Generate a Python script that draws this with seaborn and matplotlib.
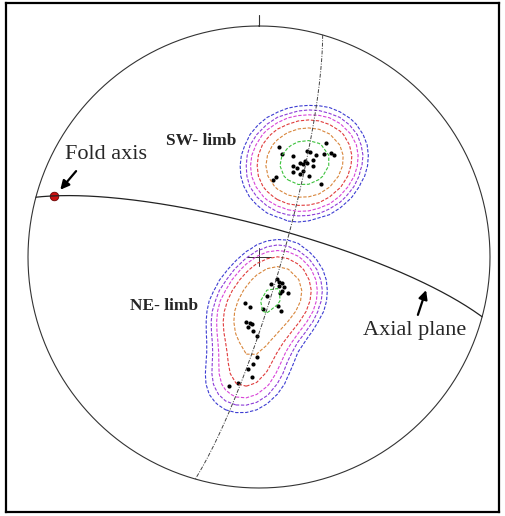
import matplotlib
matplotlib.use("Agg")
import matplotlib.pyplot as plt
import numpy as np
import pandas as pd
import seaborn as sns

sns.set_theme(style="white")
plt.rcParams["font.family"] = ["Liberation Serif", "DejaVu Serif"]

# %%
# poles to bedding, read off the net (equal-area, primitive radius = 1, x = east, y = north)
sw_x = [0.087, 0.100, 0.147, 0.208, 0.221, 0.247, 0.281, 0.312, 0.325, 0.290, 0.199, 0.234, 0.177,
        0.147, 0.165, 0.190, 0.208, 0.234, 0.147, 0.177, 0.190, 0.216, 0.074, 0.061, 0.268]
sw_y = [0.476, 0.446, 0.437, 0.459, 0.455, 0.442, 0.446, 0.450, 0.442, 0.494, 0.416, 0.420, 0.407,
        0.394, 0.385, 0.403, 0.407, 0.394, 0.368, 0.359, 0.372, 0.351, 0.346, 0.333, 0.316]
ne_x = [0.078, 0.087, 0.052, 0.100, 0.087, 0.108, 0.100, 0.091, 0.126, 0.035, -0.061, -0.039, 0.017,
        0.082, 0.095, -0.056, -0.039, -0.030, -0.048, -0.026, -0.009, -0.009, -0.026, -0.048, -0.030,
        -0.091, -0.130]
ne_y = [-0.095, -0.108, -0.117, -0.113, -0.126, -0.130, -0.147, -0.156, -0.156, -0.169, -0.199, -0.216,
        -0.225, -0.212, -0.234, -0.281, -0.286, -0.290, -0.303, -0.320, -0.342, -0.433, -0.463, -0.485,
        -0.519, -0.545, -0.558]

fold_axis = (286.5, 8)  # trend, plunge
axial_plane = (285, 79)  # strike, dip (right hand rule)
girdle = (16, 82)  # pi-circle, pole = fold axis

# contour levels as fraction of the max pole density
contour_levels = [0.08, 0.12, 0.17, 0.25, 0.4, 0.69]
contour_colors = ["#3c3cd2", "#8c3cd8", "#d844d8", "#e03c3c", "#d8863c", "#3cc23c"]


# %%
def project(trend, plunge):
    """Lower hemisphere equal-area projection of a line."""
    t, p = np.radians(trend), np.radians(plunge)
    r = np.sqrt(1 - np.sin(p))
    return r * np.sin(t), r * np.cos(t)


def great_circle(strike, dip, n=181):
    s, d = np.radians(strike), np.radians(dip)
    a = np.linspace(0, np.pi, n)
    east = np.cos(a) * np.sin(s) + np.sin(a) * np.cos(d) * np.cos(s)
    north = np.cos(a) * np.cos(s) - np.sin(a) * np.cos(d) * np.sin(s)
    down = np.sin(a) * np.sin(d)
    return east / np.sqrt(1 + down), north / np.sqrt(1 + down)


def pole_density(xs, ys, sigma=0.1, step=0.045):
    """Counting-type density on a coarse net grid (isotropic gaussian counting)."""
    g = np.arange(-1, 1 + step / 2, step)
    gx, gy = np.meshgrid(g, g)
    dens = np.zeros_like(gx)
    for x, y in zip(xs, ys):
        dens += np.exp(-((gx - x) ** 2 + (gy - y) ** 2) / (2 * sigma**2))
    dens[gx**2 + gy**2 > 1] = 0
    return gx, gy, dens / dens.max()


poles = pd.DataFrame(
    {
        "x": sw_x + ne_x,
        "y": sw_y + ne_y,
        "limb": ["SW"] * len(sw_x) + ["NE"] * len(ne_x),
    }
)

# %%
fig = plt.figure(figsize=(5.05, 5.16), dpi=100)
ax = fig.add_axes([6 / 505, 1 - 512 / 516, 493 / 505, 509 / 516])

# primitive circle + north tick + centre cross
theta = np.linspace(0, 2 * np.pi, 721)
ax.plot(np.sin(theta), np.cos(theta), color="#333333", lw=0.8)
ax.plot([0, 0], [1, 1.048], color="#333333", lw=0.8)
ax.plot([-0.05, 0.05], [0, 0], color="#333333", lw=0.7)
ax.plot([0, 0], [-0.04, 0.04], color="#333333", lw=0.7)

gx, gy, dens = pole_density(poles["x"], poles["y"])
ax.contour(gx, gy, dens, levels=contour_levels, colors=contour_colors,
           linewidths=0.8, linestyles=[(0, (3, 1.5))] * len(contour_levels))

sns.scatterplot(data=poles, x="x", y="y", color="black", s=9, linewidth=0, legend=False, ax=ax)

cx, cy = great_circle(*girdle)
ax.plot(cx, cy, color="#444444", lw=0.7, linestyle=(0, (4, 1.5, 1, 1.5)))
px, py = great_circle(*axial_plane)
ax.plot(px, py, color="#222222", lw=0.9)

fx, fy = project(*fold_axis)
sns.scatterplot(x=[fx], y=[fy], color="#cc1111", s=38, edgecolor="#660000", linewidth=0.6, ax=ax)

# labels
ax.text(-0.662, 0.442, "Fold axis", fontsize=16, ha="center", va="center")
ax.annotate("", xy=(-0.868, 0.282), xytext=(-0.784, 0.381),
            arrowprops=dict(arrowstyle="-|>", color="black", lw=1.6, mutation_scale=13))
ax.text(0.675, -0.318, "Axial plane", fontsize=16, ha="center", va="center")
ax.annotate("", xy=(0.727, -0.132), xytext=(0.684, -0.262),
            arrowprops=dict(arrowstyle="-|>", color="black", lw=1.6, mutation_scale=13))
ax.text(-0.251, 0.502, "SW- limb", fontsize=12.5, fontweight="bold", ha="center", va="center")
ax.text(-0.411, -0.212, "NE- limb", fontsize=12.5, fontweight="bold", ha="center", va="center")

ax.set_xlim((6 - 259) / 231, (499 - 259) / 231)
ax.set_ylim((257 - 512) / 231, (257 - 3) / 231)
ax.set_xticks([])
ax.set_yticks([])
ax.set_xlabel("")
ax.set_ylabel("")
for spine in ax.spines.values():
    spine.set_color("black")
    spine.set_linewidth(1.6)

fig.savefig("out.png", dpi=100)
